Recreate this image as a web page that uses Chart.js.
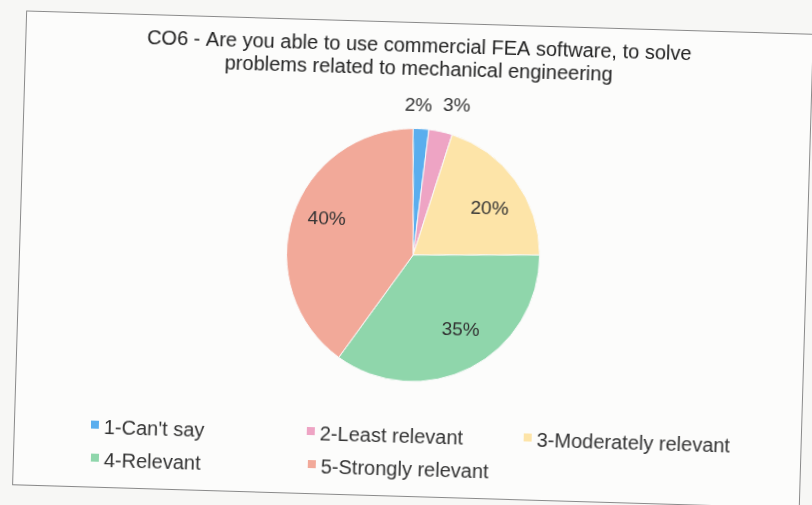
<!DOCTYPE html>
<html>
<head>
<meta charset="utf-8">
<script src="https://cdn.jsdelivr.net/npm/chart.js@4/dist/chart.umd.min.js"></script>
<style>
  html, body { margin: 0; padding: 0; background: #f7f7f5; overflow: hidden; }
  #wrap { position: relative; width: 812px; height: 505px; transform: rotate(1.7deg); transform-origin: 412px 258px; }
  #frame { position: absolute; left: 19px; top: 22px; width: 786px; height: 473px; border: 1px solid #8a8a8a; background: #fcfcfb; }
  #miGrafica { position: absolute; left: 0; top: 0; }
  .leg { position: absolute; font: 20px "Liberation Sans", Arial, sans-serif; color: #333; white-space: nowrap; }
  .leg span { display: inline-block; width: 8px; height: 8px; margin-right: 5px; vertical-align: 5px; }
</style>
</head>
<body>
<div id="wrap">
  <div id="frame"></div>
  <canvas id="miGrafica" width="812" height="505"></canvas>
  <div id="leyenda"></div>
</div>
<script>
let categorias = ["1-Can't say", "2-Least relevant", "3-Moderately relevant", "4-Relevant", "5-Strongly relevant"];
let porcentajes = [2, 3, 20, 35, 40];
let colores = ["#5aaeee", "#eea4c4", "#fde4a8", "#8fd6ab", "#f2a999"];

// posiciones de la leyenda (3 columnas, 2 filas)
let legX = [96, 312, 529, 97, 314];
let legY = [425, 425, 425, 458, 458];

// desplazamiento de cada etiqueta de porcentaje
let ajusteX = [-4, 11, 3, 6, 0];
let ajusteY = [0, -4, 7, -6, -8];

let leyenda = document.getElementById("leyenda");
categorias.forEach(function (c, i) {
    let d = document.createElement("div");
    d.className = "leg";
    d.style.left = legX[i] + "px";
    d.style.top = legY[i] + "px";
    d.innerHTML = '<span style="background:' + colores[i] + '"></span>' + c;
    leyenda.appendChild(d);
});

// etiquetas de porcentaje sobre cada sector
let etiquetas = {
    id: "etiquetas",
    afterDatasetsDraw(chart) {
        let ctx = chart.ctx;
        let meta = chart.getDatasetMeta(0);
        ctx.save();
        ctx.font = "19px 'Liberation Sans', Arial, sans-serif";
        ctx.fillStyle = "#333";
        ctx.textAlign = "center";
        ctx.textBaseline = "middle";
        meta.data.forEach(function (arc, i) {
            let ang = (arc.startAngle + arc.endAngle) / 2;
            let r = porcentajes[i] < 5 ? arc.outerRadius * 1.18 : arc.outerRadius * 0.72;
            let x = arc.x + Math.cos(ang) * r + ajusteX[i];
            let y = arc.y + Math.sin(ang) * r + ajusteY[i];
            ctx.fillText(porcentajes[i] + "%", x, y);
        });
        ctx.restore();
    }
};

let miGrafica = document.getElementById("miGrafica").getContext("2d");
var chart = new Chart(miGrafica, {
    type: "pie",
    data: {
        labels: categorias,
        datasets: [{
            data: porcentajes,
            backgroundColor: colores,
            borderColor: "#fafafa",
            borderWidth: 1
        }]
    },
    options: {
        responsive: false,
        animation: false,
        rotation: -1.7,
        layout: { padding: { left: 14, right: 0, top: 0, bottom: 123 } },
        plugins: {
            legend: { display: false },
            tooltip: { enabled: false },
            title: {
                display: true,
                text: ["CO6 - Are you able to use commercial FEA software, to solve",
                       "problems related to mechanical engineering"],
                color: "#222",
                font: { family: "'Liberation Sans', Arial, sans-serif", size: 20, weight: "normal", lineHeight: 1.15 },
                padding: { top: 35, bottom: 47 }
            }
        }
    },
    plugins: [etiquetas]
});
</script>
</body>
</html>
